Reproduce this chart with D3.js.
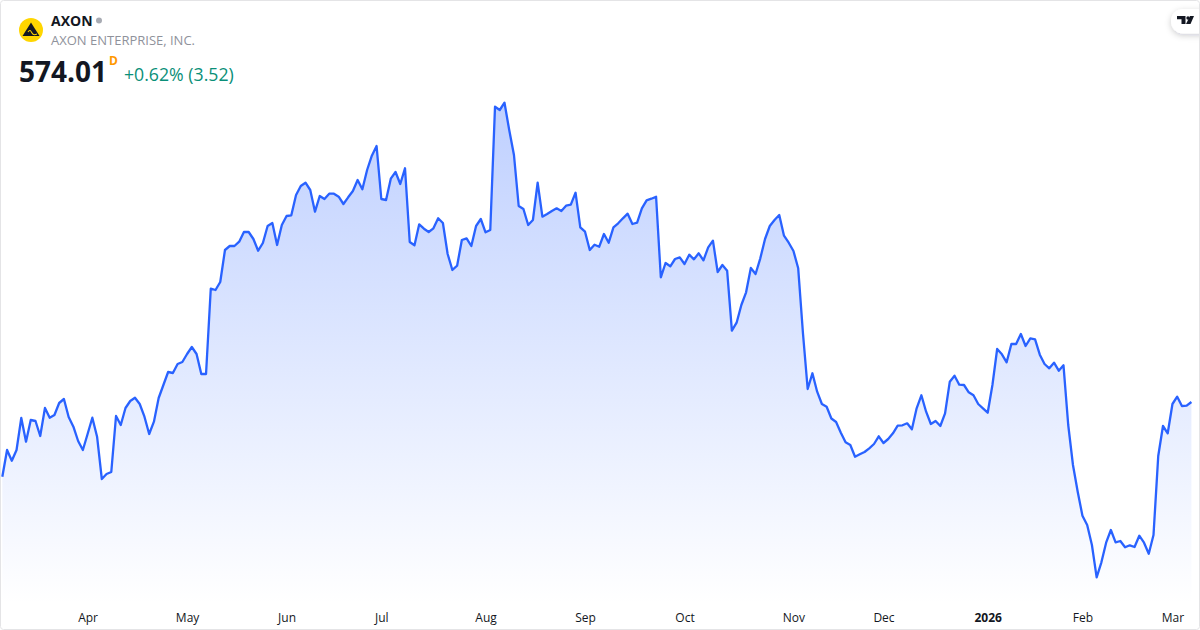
<!DOCTYPE html>
<html>
<head>
<meta charset="utf-8">
<style>
  html, body { margin: 0; padding: 0; background: #fff; }
  svg { display: block; font-family: "Open Sans", sans-serif; }
</style>
<script src="https://cdn.jsdelivr.net/npm/d3@7"></script>
</head>
<body>
<div id="chart"></div>
<script>
(function() {
  "use strict";

  // daily closes, first is 7 Mar 2025
  var closes = [
    499.3, 526, 515.3, 526, 558, 534.3, 556, 555, 540, 568,
    558.3, 561, 573, 577, 559, 549.3, 535, 526, 542, 558.3,
    539.3, 497, 502, 504, 560, 551, 568, 575, 578.3, 572,
    559.3, 542, 554.3, 578, 591, 604, 603, 612, 614, 622,
    629, 622, 602, 602, 687.3, 686, 694, 726, 730, 730,
    734.3, 744, 744, 737, 725.3, 733, 750, 753, 731, 751,
    760, 760.7, 781, 790, 793.3, 786, 764.3, 780, 777, 782.3,
    782.3, 779.3, 772, 778.7, 785, 796, 786.7, 806, 820.3, 830,
    777, 776, 797.3, 804, 792, 807.7, 734, 730.7, 751.7, 747.3,
    744, 747.7, 757.7, 753, 722, 706, 710.3, 736, 737.7, 730,
    750, 757, 743.7, 746, 869.3, 866, 873.3, 846, 821, 770,
    767, 751, 756, 793.3, 759.3, 762, 765, 767.7, 765, 770.3,
    771.3, 783.3, 748.7, 744.3, 726, 731.3, 729.3, 742, 733.3, 748.7,
    752.7, 757.7, 762.3, 752, 753.3, 767.7, 775.7, 777.3, 779.3, 698.7,
    713, 709.7, 717, 718.7, 712, 721.3, 716.7, 722.7, 715.7, 728.7,
    735.3, 704, 711, 705.3, 645.3, 653.3, 671, 683.7, 708, 702,
    717.7, 737, 750, 756, 761, 740.3, 733.3, 725, 707.7, 643,
    587, 602.7, 584.3, 572, 569.3, 557.5, 554, 543.3, 533.7, 531,
    519.3, 521.7, 524, 527.7, 532, 539.7, 533, 537, 542.7, 550.3,
    550.7, 552.7, 546.7, 567.7, 580.7, 564.3, 552, 555, 550, 562.7,
    594.3, 600.3, 591.3, 591, 583.7, 580.7, 572, 567.7, 563.3, 591,
    627, 621.7, 613.7, 632, 632, 642, 630, 637.7, 636.7, 621.3,
    612, 607.7, 613.3, 605.3, 610.7, 551, 511, 484.3, 460.3, 451,
    431, 398.7, 413.7, 433.3, 446, 433.7, 435, 428.7, 430.7, 429,
    440.3, 433.3, 422.3, 441, 520, 550, 542.7, 572, 579.3, 570,
    570.3, 574
  ];
  var monthTicks = [18, 39, 60, 80, 102, 123, 144, 167, 186, 208, 228, 247];
  var monthLabels = ["Apr", "May", "Jun", "Jul", "Aug", "Sep", "Oct", "Nov", "Dec", "2026", "Feb", "Mar"];

  var width = 1200, height = 630;
  var lineColor = "#2962ff";

  var svg = d3.select("#chart").append("svg")
    .attr("width", width)
    .attr("height", height);

  var x = d3.scaleLinear().domain([0, closes.length - 1]).range([2.33, 1191.4]);
  var y = d3.scaleLinear().domain([346, 976]).range([630, 0]);

  var defs = svg.append("defs");
  var grad = defs.append("linearGradient")
    .attr("id", "areaFill")
    .attr("gradientUnits", "userSpaceOnUse")
    .attr("x1", 0).attr("x2", 0)
    .attr("y1", y(d3.max(closes))).attr("y2", 604);
  grad.append("stop").attr("offset", "0%").attr("stop-color", lineColor).attr("stop-opacity", 0.3);
  grad.append("stop").attr("offset", "100%").attr("stop-color", lineColor).attr("stop-opacity", 0);

  var shadow = defs.append("filter")
    .attr("id", "pillShadow")
    .attr("x", "-30%").attr("y", "-40%").attr("width", "160%").attr("height", "200%");
  shadow.append("feDropShadow")
    .attr("dx", 0).attr("dy", 2).attr("stdDeviation", 3)
    .attr("flood-color", "#131722").attr("flood-opacity", 0.2);

  var area = d3.area()
    .x(function(d, i) { return x(i); })
    .y0(604)
    .y1(function(d) { return y(d); });
  var line = d3.line()
    .x(function(d, i) { return x(i); })
    .y(function(d) { return y(d); });

  svg.append("path").attr("d", area(closes)).attr("fill", "url(#areaFill)");
  svg.append("path")
    .attr("d", line(closes))
    .attr("fill", "none")
    .attr("stroke", lineColor)
    .attr("stroke-width", 2.3)
    .attr("stroke-linejoin", "round");

  var axis = d3.axisBottom(x)
    .tickValues(monthTicks)
    .tickSize(0)
    .tickFormat(function(d, i) { return monthLabels[i]; });
  var axisG = svg.append("g")
    .attr("transform", "translate(0,609)")
    .call(axis);
  axisG.select(".domain").remove();
  axisG.selectAll("text")
    .attr("y", 4)
    .attr("font-family", "'Open Sans', sans-serif")
    .attr("font-size", 12)
    .attr("fill", "#131722")
    .attr("font-weight", function(d, i) { return monthLabels[i] === "2026" ? 700 : 400; });

  // header
  var logo = svg.append("g").attr("transform", "translate(31,30)");
  logo.append("circle").attr("r", 12).attr("fill", "#ffd600");
  logo.append("path").attr("d", "M0,-7.5 L8.5,6 L-8.5,6 Z").attr("fill", "#131722");
  logo.append("path")
    .attr("d", "M-3,2 C-1,-1 0,1 1,3 C2,5 4,5 6,4")
    .attr("fill", "none")
    .attr("stroke", "#ffd600")
    .attr("stroke-width", 1.1);

  function addText(px, py, str, size, weight, color) {
    return svg.append("text")
      .attr("x", px).attr("y", py)
      .attr("font-size", size)
      .attr("font-weight", weight)
      .attr("fill", color)
      .text(str);
  }

  addText(51, 26, "AXON", 14, 700, "#131722");
  svg.append("circle").attr("cx", 99).attr("cy", 20.5).attr("r", 3).attr("fill", "#a8abb3");
  addText(51, 45, "AXON ENTERPRISE, INC.", 13, 400, "#8f929b");
  addText(19, 82, "574.01", 28, 700, "#131722");
  addText(109, 65, "D", 12, 700, "#ff9800");
  addText(124, 81, "+0.62% (3.52)", 17.7, 400, "#0a8f78");

  // tv badge, top right
  svg.append("rect")
    .attr("x", 1171).attr("y", 9).attr("width", 50).attr("height", 24.5).attr("rx", 12)
    .attr("fill", "#fff")
    .attr("filter", "url(#pillShadow)");
  svg.append("path")
    .attr("d", "M1177,16 H1185.5 V24 H1181.5 V19.3 H1177 Z M1190,16 H1194 L1190.5,24 H1186 Z")
    .attr("fill", "#131722");
  svg.append("circle").attr("cx", 1188).attr("cy", 18).attr("r", 1.7).attr("fill", "#131722");

  // outer frame
  svg.append("rect")
    .attr("x", 0.5).attr("y", 0.5).attr("width", width - 1).attr("height", height - 1)
    .attr("rx", 3)
    .attr("fill", "none")
    .attr("stroke", "#e4e4e6");
})();
</script>
</body>
</html>
